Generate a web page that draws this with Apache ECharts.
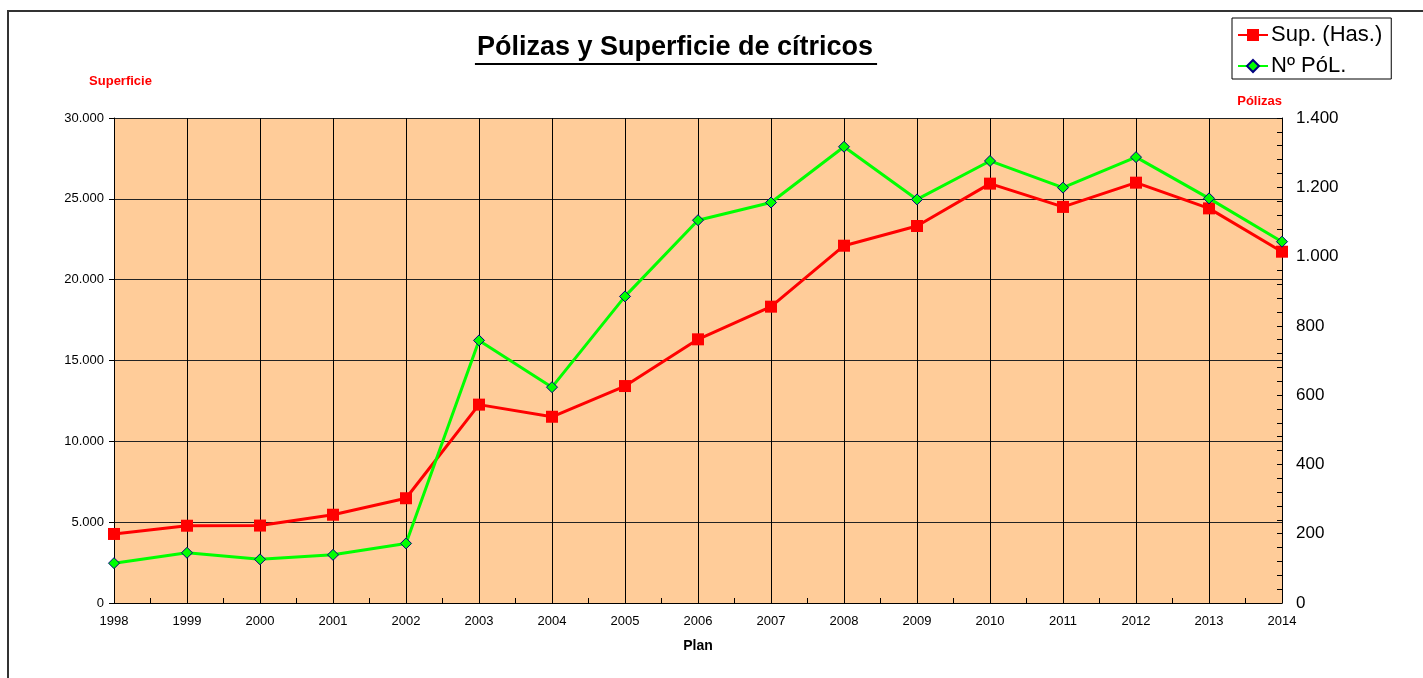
<!DOCTYPE html>
<html>
<head>
<meta charset="utf-8">
<script src="https://cdn.jsdelivr.net/npm/echarts@6/dist/echarts.min.js"></script>
<style>
html,body{margin:0;padding:0;background:#fff;}
#chart{width:1423px;height:678px;}
</style>
</head>
<body>
<div id="chart"></div>
<script>
var titleText = 'Pólizas y Superficie de cítricos';
var years = [1998,1999,2000,2001,2002,2003,2004,2005,2006,2007,2008,2009,2010,2011,2012,2013,2014];
var superficie = [4270,4780,4790,5460,6480,12270,11520,13420,16310,18330,22100,23320,25940,24500,26000,24410,21730];
var polizas = [115,145,126,139,172,758,623,885,1105,1156,1317,1165,1276,1199,1287,1168,1043];
var seriesNames = ['Sup. (Has.)', 'Nº PóL.'];

var FONT = '"Liberation Sans", Arial, sans-serif';
function dots(v){ return String(v).replace(/\B(?=(\d{3})+(?!\d))/g, '.'); }
function pairs(vals){ return years.map(function(y,i){ return [y, vals[i]]; }); }

var cv = document.createElement('canvas').getContext('2d');
cv.font = 'bold 27px ' + FONT;
var tw = cv.measureText(titleText).width;
var tcx = 675;

var chart = echarts.init(document.getElementById('chart'));
chart.setOption({
  animation: false,
  backgroundColor: '#fff',
  graphic: [
    {type:'rect', silent:true, shape:{x:8, y:11, width:1500, height:800}, style:{fill:'none', stroke:'#333', lineWidth:2}},
    {type:'text', silent:true, style:{text:titleText, x:tcx, y:48, align:'center', verticalAlign:'middle', font:'bold 27px ' + FONT, fill:'#000'}},
    {type:'rect', silent:true, shape:{x:tcx - tw/2 - 2, y:63, width:tw + 6, height:2}, style:{fill:'#000'}}
  ],
  legend: {
    orient: 'vertical',
    left: 1232, top: 18,
    padding: [6, 9, 2, 5],
    itemGap: 9,
    itemWidth: 30, itemHeight: 15,
    backgroundColor: '#fff',
    borderColor: '#000', borderWidth: 1,
    borderRadius: 0,
    textStyle: {fontFamily: FONT, fontSize: 22, color: '#000', padding:[0,0,0,-2]},
    data: seriesNames
  },
  grid: {left:114, right:141, top:118, bottom:75, show:true, backgroundColor:'#FFCC99', borderWidth:0},
  xAxis: {
    type: 'value', min: 1998, max: 2014, interval: 1,
    name: 'Plan', nameLocation: 'middle', nameGap: 36,
    nameTextStyle: {fontFamily: FONT, fontSize: 14, fontWeight: 'bold', color: '#000'},
    axisLine: {show:true, lineStyle:{color:'#000', width:1}},
    axisTick: {show:true, inside:true, length:5, lineStyle:{color:'#000'}},
    minorTick: {show:true, splitNumber:2, length:5, lineStyle:{color:'#000'}},
    splitLine: {show:true, lineStyle:{color:'#000', width:1}},
    axisLabel: {fontFamily: FONT, fontSize: 13, color:'#000', margin: 12, formatter: function(v){ return String(v); }}
  },
  yAxis: [
    {
      type: 'value', min: 0, max: 30000, interval: 5000, position: 'left',
      name: 'Superficie', nameLocation: 'end', nameGap: 30,
      nameTextStyle: {fontFamily: FONT, fontSize: 13, fontWeight: 'bold', color: '#FF0000', align:'center', padding:[0,0,0,13]},
      axisLine: {show:true, lineStyle:{color:'#000', width:1}},
      axisTick: {show:true, inside:false, length:5, lineStyle:{color:'#000'}},
      splitLine: {show:true, lineStyle:{color:'#222', width:1}},
      axisLabel: {fontFamily: FONT, fontSize: 13, color:'#000', margin: 10, formatter: dots}
    },
    {
      type: 'value', min: 0, max: 1400, interval: 200, position: 'right',
      name: 'Pólizas', nameLocation: 'end', nameGap: 10,
      nameTextStyle: {fontFamily: FONT, fontSize: 13, fontWeight: 'bold', color: '#FF0000', align:'right'},
      axisLine: {show:true, lineStyle:{color:'#000', width:1}},
      axisTick: {show:true, inside:true, length:5, lineStyle:{color:'#000'}},
      minorTick: {show:true, splitNumber:5, length:5, lineStyle:{color:'#000'}},
      splitLine: {show:false},
      axisLabel: {fontFamily: FONT, fontSize: 17, color:'#000', margin: 14, formatter: dots}
    }
  ],
  series: [
    {
      name: seriesNames[0], type: 'line', yAxisIndex: 0,
      data: pairs(superficie),
      symbol: 'rect', symbolSize: 12,
      lineStyle: {color:'#FF0000', width:3},
      itemStyle: {color:'#FF0000'},
      z: 2
    },
    {
      name: seriesNames[1], type: 'line', yAxisIndex: 1,
      data: pairs(polizas),
      symbol: 'diamond', symbolSize: 11,
      lineStyle: {color:'#00FF00', width:3},
      itemStyle: {color:'#00FF00', borderColor:'#000080', borderWidth:1},
      z: 3
    }
  ]
});
</script>
</body>
</html>
